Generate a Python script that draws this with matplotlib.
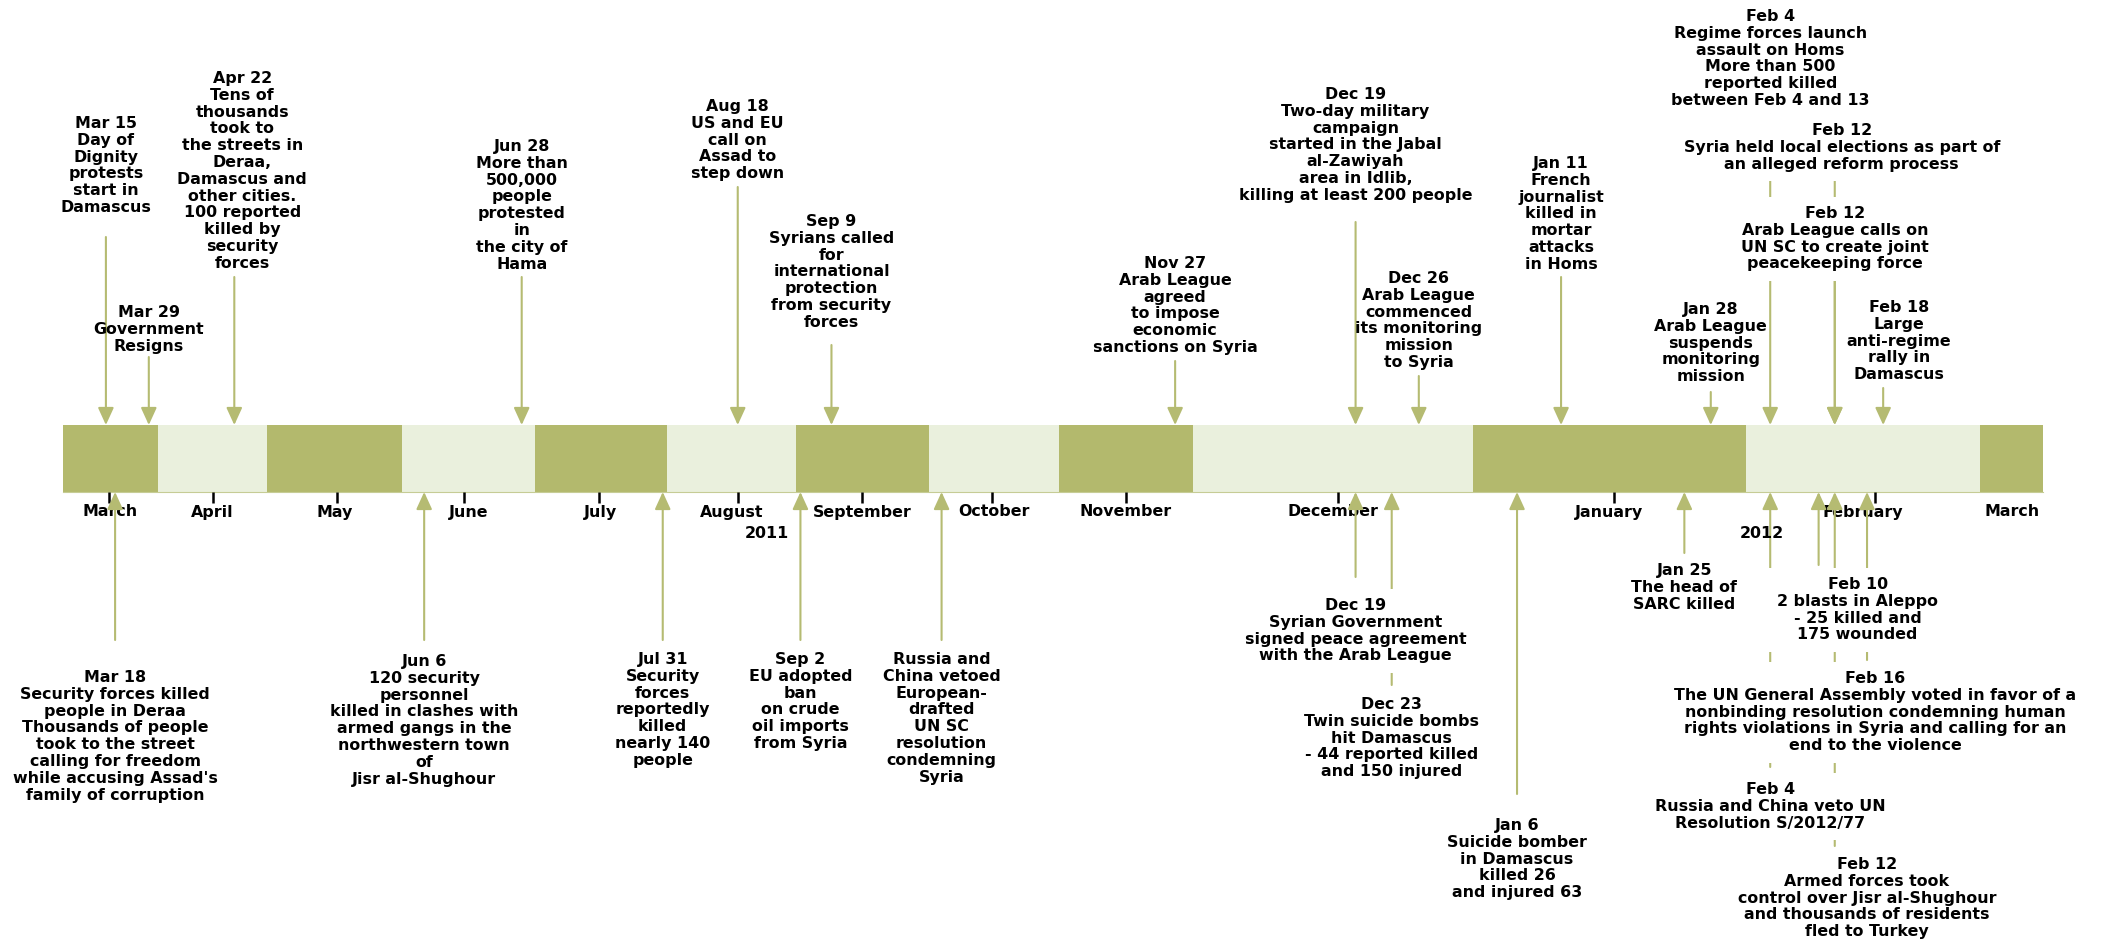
import matplotlib
matplotlib.use('Agg')
import matplotlib.pyplot as plt
import matplotlib.dates as mdates
import numpy as np

# months shown in the band (first day of each) and the day the band stops
month_starts = ['2011-03-01', '2011-04-01', '2011-05-01', '2011-06-01',
                '2011-07-01', '2011-08-01', '2011-09-01', '2011-10-01',
                '2011-11-01', '2011-12-01', '2012-01-01', '2012-02-01',
                '2012-03-01']
band_end = '2012-03-16'
month_names = ['March', 'April', 'May', 'June', 'July', 'August',
               'September', 'October', 'November', 'December', 'January',
               'February', 'March']
# mid-month tick marks
tick_dates = ['2011-03-16', '2011-04-16', '2011-05-17', '2011-06-15',
              '2011-07-16', '2011-08-18', '2011-09-16', '2011-10-16',
              '2011-11-16', '2011-12-17', '2012-01-17', '2012-02-17']
years = ['2011', '2012']

# events above the band
top_dates = ['2011-03-15', '2011-03-29', '2011-04-22', '2011-06-28',
             '2011-08-18', '2011-09-09', '2011-11-27', '2011-12-19',
             '2011-12-26', '2012-01-11', '2012-01-28', '2012-02-04',
             '2012-02-12', '2012-02-12', '2012-02-18']
top_texts = [
    "Mar 15\nDay of\nDignity\nprotests\nstart in\nDamascus",
    "Mar 29\nGovernment\nResigns",
    "Apr 22\nTens of\nthousands\ntook to\nthe streets in\nDeraa,\nDamascus and\nother cities.\n100 reported\nkilled by\nsecurity\nforces",
    "Jun 28\nMore than\n500,000\npeople\nprotested\nin\nthe city of\nHama",
    "Aug 18\nUS and EU\ncall on\nAssad to\nstep down",
    "Sep 9\nSyrians called\nfor\ninternational\nprotection\nfrom security\nforces",
    "Nov 27\nArab League\nagreed\nto impose\neconomic\nsanctions on Syria",
    "Dec 19\nTwo-day military\ncampaign\nstarted in the Jabal\nal-Zawiyah\narea in Idlib,\nkilling at least 200 people",
    "Dec 26\nArab League\ncommenced\nits monitoring\nmission\nto Syria",
    "Jan 11\nFrench\njournalist\nkilled in\nmortar\nattacks\nin Homs",
    "Jan 28\nArab League\nsuspends\nmonitoring\nmission",
    "Feb 4\nRegime forces launch\nassault on Homs\nMore than 500\nreported killed\nbetween Feb 4 and 13",
    "Feb 12\nSyria held local elections as part of\nan alleged reform process",
    "Feb 12\nArab League calls on\nUN SC to create joint\npeacekeeping force",
    "Feb 18\nLarge\nanti-regime\nrally in\nDamascus",
]

# events below the band
bottom_dates = ['2011-03-18', '2011-06-06', '2011-07-31', '2011-09-02',
                '2011-10-04', '2011-12-19', '2011-12-23', '2012-01-06',
                '2012-01-25', '2012-02-04', '2012-02-10', '2012-02-16',
                '2012-02-12']
bottom_texts = [
    "Mar 18\nSecurity forces killed\npeople in Deraa\nThousands of people\ntook to the street\ncalling for freedom\nwhile accusing Assad's\nfamily of corruption",
    "Jun 6\n120 security\npersonnel\nkilled in clashes with\narmed gangs in the\nnorthwestern town\nof\nJisr al-Shughour",
    "Jul 31\nSecurity\nforces\nreportedly\nkilled\nnearly 140\npeople",
    "Sep 2\nEU adopted\nban\non crude\noil imports\nfrom Syria",
    "Russia and\nChina vetoed\nEuropean-\ndrafted\nUN SC\nresolution\ncondemning\nSyria",
    "Dec 19\nSyrian Government\nsigned peace agreement\nwith the Arab League",
    "Dec 23\nTwin suicide bombs\nhit Damascus\n- 44 reported killed\nand 150 injured",
    "Jan 6\nSuicide bomber\nin Damascus\nkilled 26\nand injured 63",
    "Jan 25\nThe head of\nSARC killed",
    "Feb 4\nRussia and China veto UN\nResolution S/2012/77",
    "Feb 10\n2 blasts in Aleppo\n- 25 killed and\n175 wounded",
    "Feb 16\nThe UN General Assembly voted in favor of a\nnonbinding resolution condemning human\nrights violations in Syria and calling for an\nend to the violence",
    "Feb 12\nArmed forces took\ncontrol over Jisr al-Shughour\nand thousands of residents\nfled to Turkey",
]

# ---- layout (pixels from the top of the picture) ----
W, H = 2101, 939
band_top, band_bot = 425, 492
top_text_y = [116, 305, 71, 139, 99, 214, 256, 87, 271, 156, 302, 9, 123, 206, 300]
top_arrow_y = [237, 357, 277, 277, 187, 345, 361, 222, 376, 277, 392, 115, 179, 278, 388]
top_dx = [0, 0, 8, 0, 0, 0, 0, 0, 0, 0, 0, 0, 7, 0, 16]
# texts that hide the lines of other events running behind them
top_mask = [0, 0, 0, 0, 0, 0, 0, 0, 0, 0, 0, 0, 1, 1, 0]
bottom_text_y = [670, 654, 652, 652, 652, 598, 697, 818, 563, 782, 577, 671, 857]
bottom_arrow_y = [640, 640, 640, 640, 640, 577, 685, 794, 553, 767, 565, 660, 846]
bottom_dx = [0, 0, 0, 0, 0, 0, 0, 0, 0, 0, 39, 8, 32]
bottom_mask = [0, 0, 0, 0, 0, 1, 0, 0, 0, 1, 1, 1, 1]

# piecewise time scale: each month block has its own width on the band
knot_dates = ['2010-11-01'] + month_starts + ['2012-04-01', '2012-08-01']
knot_px = [-304, 63, 158, 267, 402, 535, 667, 796, 929, 1059, 1193, 1473,
           1746, 1980, 2111, 2623]
year_dates = ['2011-08-25', '2012-02-03']

dark = '#b3b96d'
light = '#eaf0dd'
arrow_col = '#b5bb72'
fs = 11.4
ls = 1.15

plt.rcParams['font.family'] = 'DejaVu Sans'
plt.rcParams['font.weight'] = 'bold'

kd = mdates.datestr2num(knot_dates)
kp = np.array(knot_px, dtype=float)


def fwd(x):
    return np.interp(x, kd, kp)


def inv(p):
    return np.interp(p, kp, kd)


fig = plt.figure(figsize=(W / 100, H / 100), dpi=100)
ax = fig.add_axes([0, 0, 1, 1])
ax.set_xscale('function', functions=(fwd, inv))
ax.set_xlim(inv(0), inv(W))
ax.set_ylim(H, 0)

# month blocks
starts = mdates.datestr2num(month_starts)
ends = np.append(starts[1:], mdates.datestr2num(band_end))
cols = [dark if i % 2 == 0 else light for i in range(len(starts))]
ax.bar(starts, band_bot - band_top, width=ends - starts, bottom=band_top,
       align='edge', color=cols, linewidth=0, zorder=1)

# axis: ticks mid-month, labels centred on each block
ax.spines['bottom'].set_position(('data', band_bot))
ax.spines['bottom'].set_bounds(starts[0], ends[-1])
ax.spines['bottom'].set_color('#c6cc95')
ax.spines['bottom'].set_zorder(1.5)
for s in ['top', 'left', 'right']:
    ax.spines[s].set_visible(False)
ax.yaxis.set_visible(False)
ax.xaxis.remove_overlapping_locs = False
ax.set_xticks(mdates.datestr2num(tick_dates))
ax.set_xticklabels([])
ax.set_xticks((starts + ends) / 2, minor=True)
ax.set_xticklabels(month_names, minor=True)
ax.tick_params(axis='x', which='major', direction='out', length=8, width=1.8,
               color='black')
ax.tick_params(axis='x', which='minor', length=0, pad=9, labelsize=fs)

for yr, d in zip(years, year_dates):
    ax.text(mdates.datestr2num(d), 533, yr, ha='center', va='center',
            fontsize=fs)


def draw_event(d, text, tip_y, start_y, text_y, dx, mask):
    x = mdates.datestr2num(d)
    ax.annotate('', xy=(x, tip_y), xytext=(x, start_y),
                arrowprops=dict(arrowstyle='-|>,head_length=10.5,head_width=4.8',
                                mutation_scale=1, color=arrow_col, lw=1.5,
                                shrinkA=0, shrinkB=0),
                zorder=2)
    tx = inv(fwd(x) + dx)
    kw = dict(ha='center', va='top', fontsize=fs, linespacing=ls,
              multialignment='center')
    if mask:
        # white patch behind the text hides lines of other events
        ax.text(tx, text_y, text, color='white', zorder=2.5,
                bbox=dict(boxstyle='square,pad=0.6', fc='white', ec='none'),
                **kw)
    ax.text(tx, text_y, text, color='black', zorder=4, **kw)


for i in range(len(top_dates)):
    draw_event(top_dates[i], top_texts[i], band_top, top_arrow_y[i],
               top_text_y[i], top_dx[i], top_mask[i])
for i in range(len(bottom_dates)):
    draw_event(bottom_dates[i], bottom_texts[i], band_bot, bottom_arrow_y[i],
               bottom_text_y[i], bottom_dx[i], bottom_mask[i])

fig.savefig('out.png', dpi=100, facecolor='white')
